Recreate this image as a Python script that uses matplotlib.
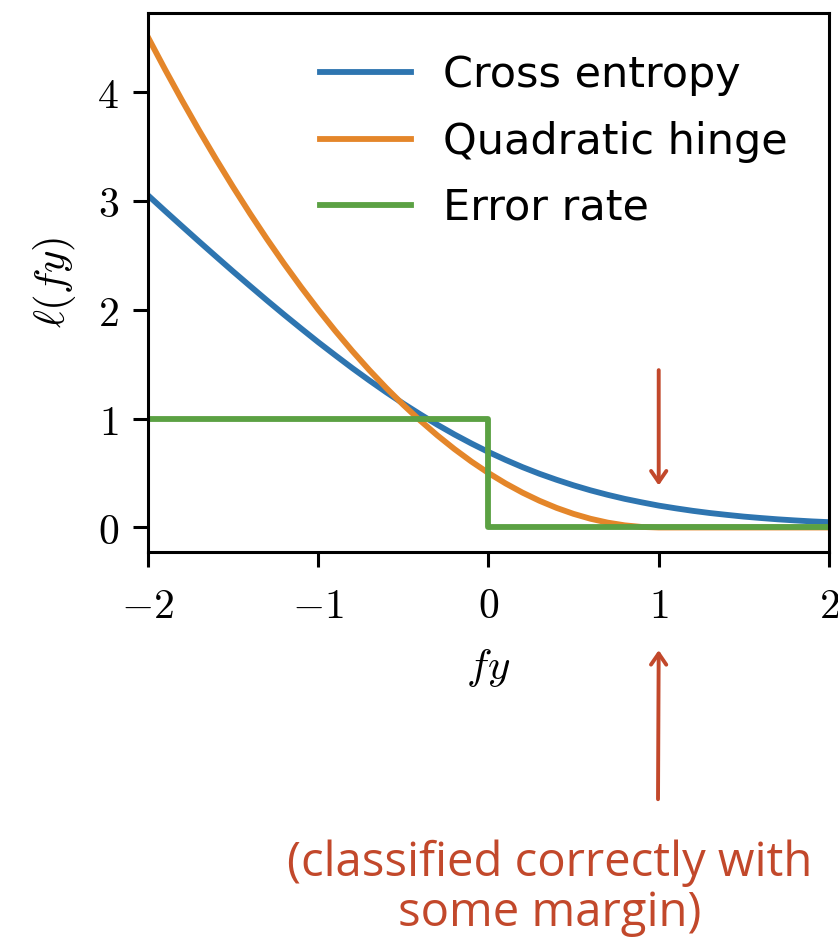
import matplotlib
matplotlib.use("Agg")
import matplotlib.pyplot as plt

plt.rcParams['mathtext.fontset'] = 'cm'
plt.rcParams['font.family'] = ['DejaVu Sans']

# valores
fy = [-2.0, -1.9, -1.8, -1.7, -1.6, -1.5, -1.4, -1.3, -1.2, -1.1,
      -1.0, -0.9, -0.8, -0.7, -0.6, -0.5, -0.4, -0.3, -0.2, -0.1,
      0.0, 0.1, 0.2, 0.3, 0.4, 0.5, 0.6, 0.7, 0.8, 0.9,
      1.0, 1.1, 1.2, 1.3, 1.4, 1.5, 1.6, 1.7, 1.8, 1.9, 2.0]
cross_entropy = [3.049, 2.906, 2.765, 2.625, 2.487, 2.350, 2.216, 2.083, 1.953, 1.826,
                 1.701, 1.581, 1.463, 1.350, 1.241, 1.137, 1.038, 0.943, 0.854, 0.771,
                 0.693, 0.621, 0.554, 0.493, 0.438, 0.387, 0.341, 0.300, 0.263, 0.231,
                 0.201, 0.176, 0.153, 0.133, 0.116, 0.100, 0.087, 0.075, 0.065, 0.056, 0.049]
quad_hinge = [4.500, 4.205, 3.920, 3.645, 3.380, 3.125, 2.880, 2.645, 2.420, 2.205,
              2.000, 1.805, 1.620, 1.445, 1.280, 1.125, 0.980, 0.845, 0.720, 0.605,
              0.500, 0.405, 0.320, 0.245, 0.180, 0.125, 0.080, 0.045, 0.020, 0.005,
              0.0, 0.0, 0.0, 0.0, 0.0, 0.0, 0.0, 0.0, 0.0, 0.0, 0.0]
err_x = [-2.0, 0.0, 0.0, 2.0]
err_y = [1.0, 1.0, 0.0, 0.0]

xticks = [-2, -1, 0, 1, 2]
yticks = [0, 1, 2, 3, 4]

margin_x = 1.0
arrow_from = 1.47
arrow_to = 0.36

rojo = '#c2482b'

fig = plt.figure(figsize=(8.38, 9.42), dpi=100)
ax = fig.add_axes([0.1766, 0.414, 0.8126, 0.5725])

ax.plot(fy, cross_entropy, color='#2e75b0', lw=4.2, label='Cross entropy')
ax.plot(fy, quad_hinge, color='#e4862a', lw=4.2, label='Quadratic hinge')
ax.plot(err_x, err_y, color='#5ba143', lw=4.2, label='Error rate')

ax.set_xlim(-2, 2)
ax.set_xticks(xticks)
ax.set_xticklabels([f'${v}$' for v in xticks])
ax.set_yticks(yticks)
ax.set_yticklabels([f'${v}$' for v in yticks])
ax.tick_params(labelsize=30, width=2.2, length=11)
ax.tick_params(axis='x', pad=13)
ax.tick_params(axis='y', pad=10)
for s in ax.spines.values():
    s.set_linewidth(2.2)

ax.set_xlabel(r'$fy$', fontsize=31, labelpad=14)
ax.set_ylabel(r'$\ell(fy)$', fontsize=31, labelpad=14)

ax.legend(loc='upper right', frameon=False, fontsize=31, handlelength=2.1,
          handletextpad=0.74, labelspacing=0.56, borderaxespad=0.57)

flecha = dict(arrowstyle='->,head_length=0.8,head_width=0.55', color=rojo, lw=2.8)

# flecha dentro del grafico
ax.annotate('', xy=(margin_x, arrow_to), xytext=(margin_x, arrow_from),
            arrowprops=flecha)

# flecha de abajo y texto
ax.annotate('', xy=(margin_x, -1.10), xycoords='data',
            xytext=(658 / 838, 1 - 802 / 942), textcoords='figure fraction',
            arrowprops=flecha, annotation_clip=False)
fig.text(550 / 838, 1 - 888 / 942, '(classified correctly with\nsome margin)',
         ha='center', va='center', fontsize=34, family='Open Sans',
         color=rojo, linespacing=1.06)

fig.savefig('out.png', dpi=100)
